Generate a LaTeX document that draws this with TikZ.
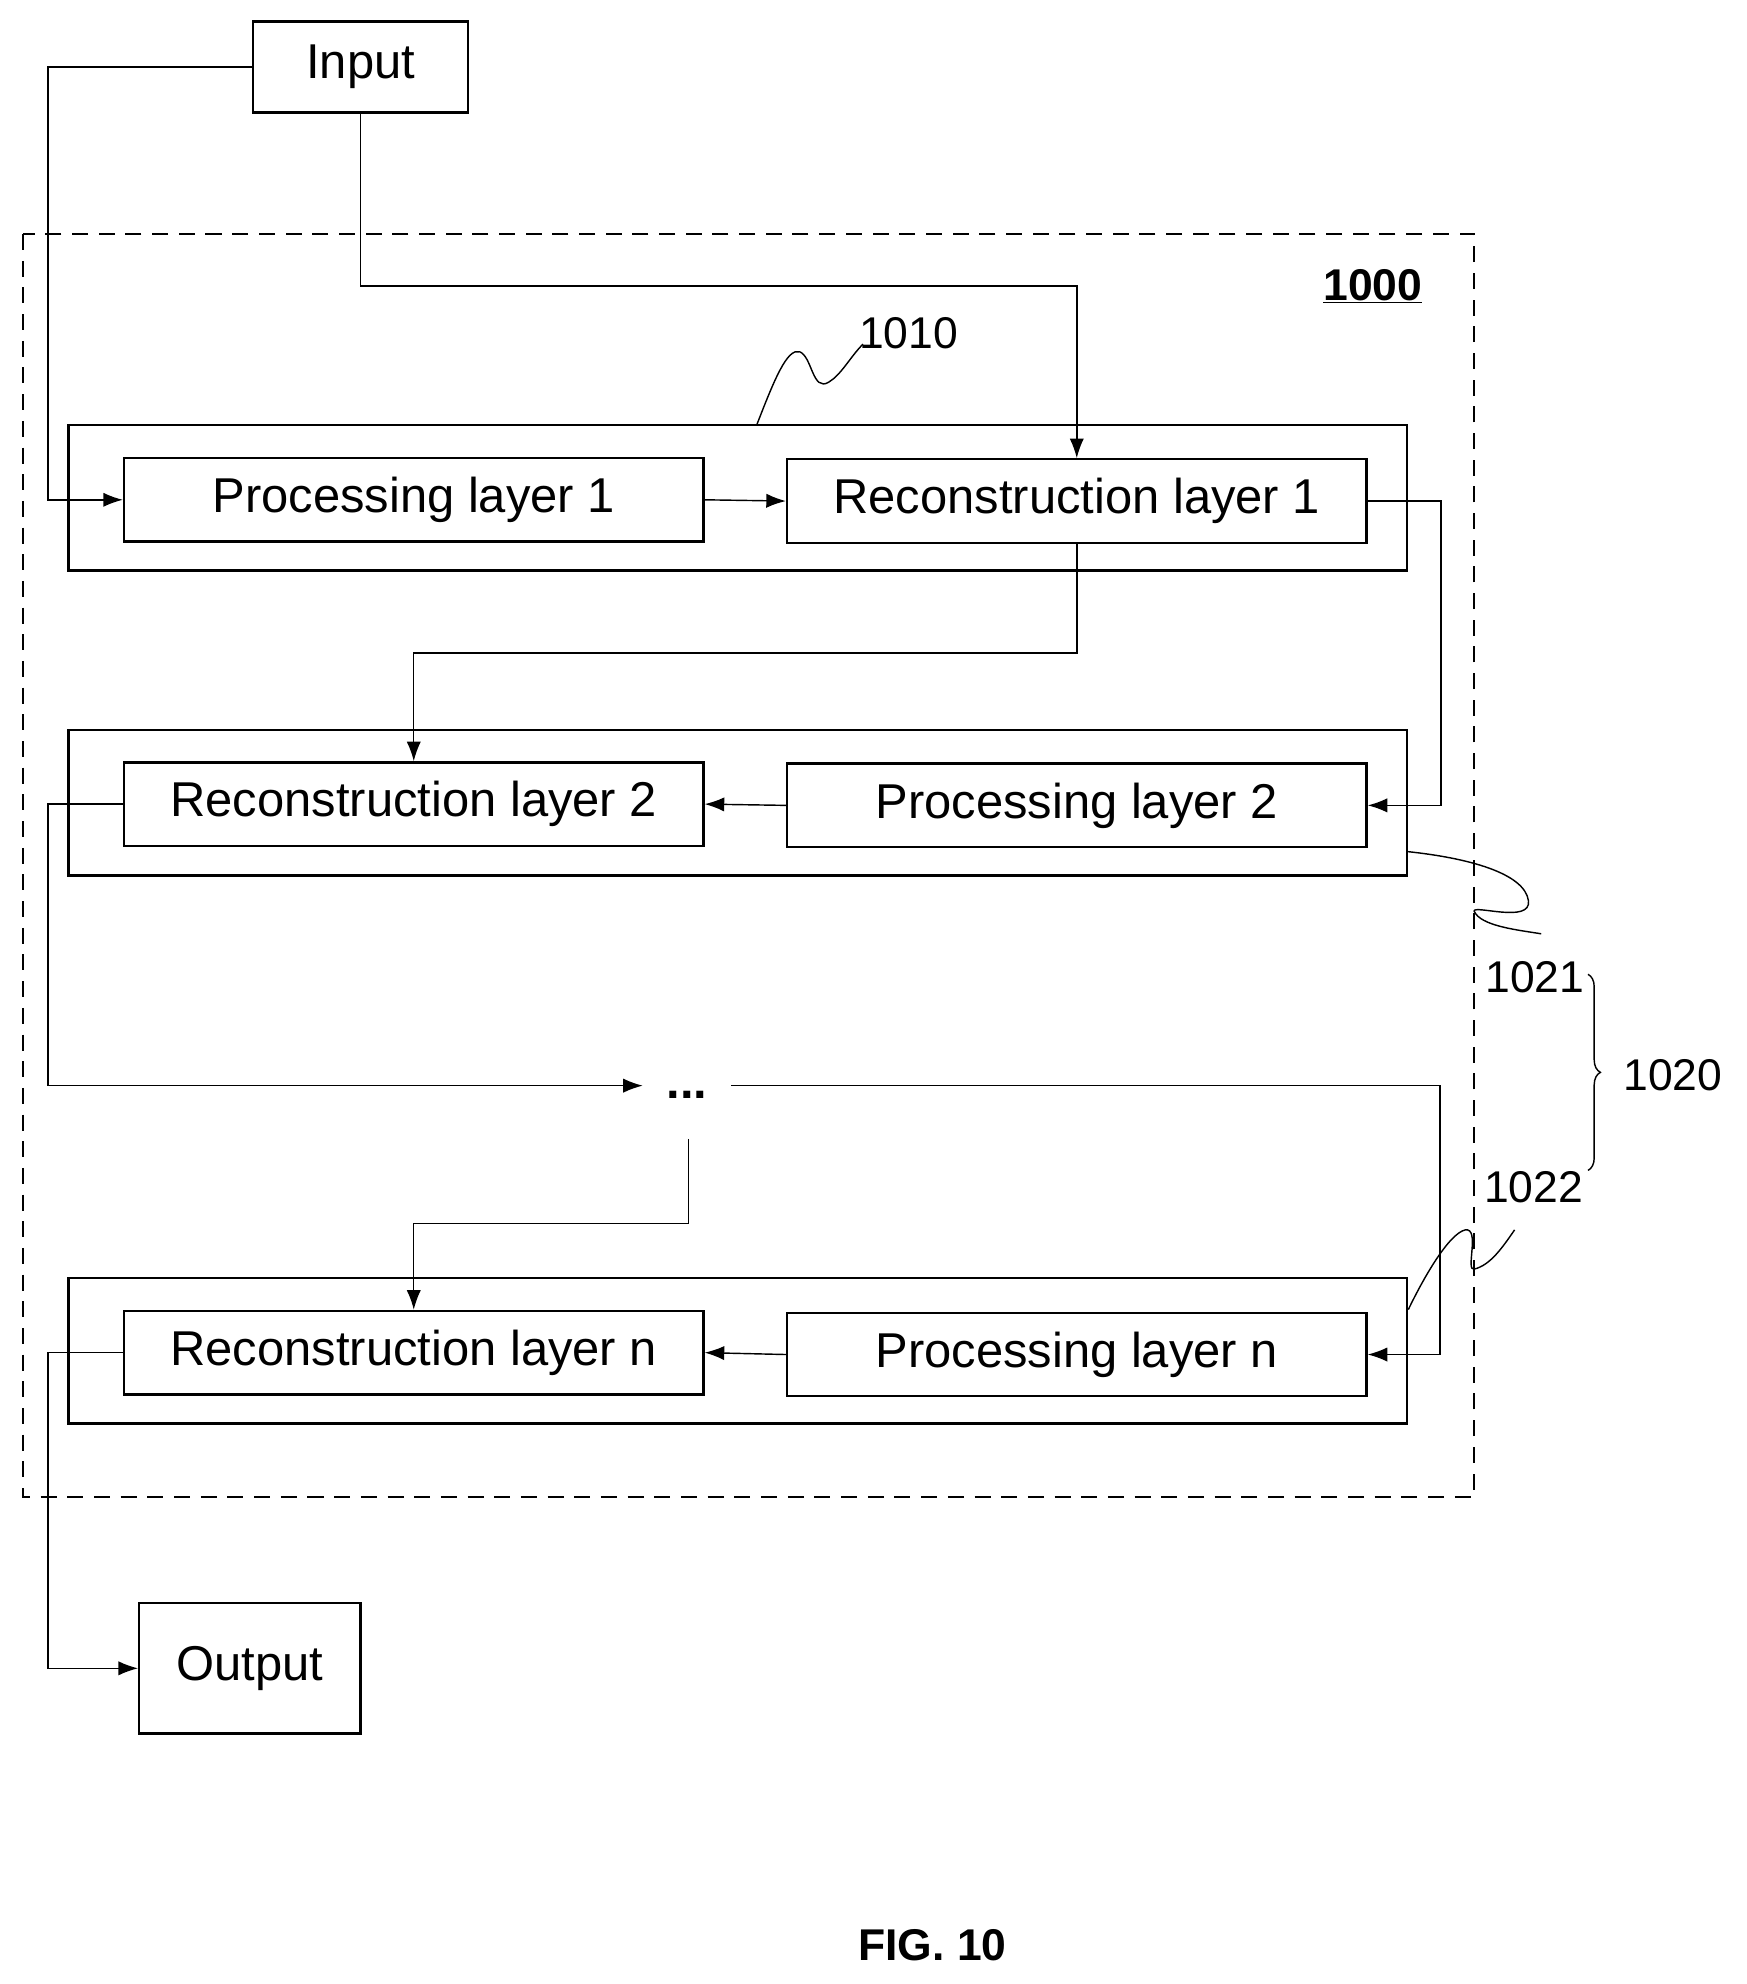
\documentclass[tikz,border=0pt]{standalone}
\usepackage{fontspec}
\setmainfont{Liberation Sans}
\usetikzlibrary{arrows.meta,decorations.pathreplacing}
\begin{document}
\begin{tikzpicture}[x=0.05cm,y=-0.05cm,
  box/.style={draw,line width=2.6pt,inner sep=0,font=\fontsize{55}{60}\selectfont},
  grp/.style={draw,line width=2.6pt,inner sep=0,minimum width=52.9cm,minimum height=5.75cm},
  lay/.style={box,minimum width=22.9cm,minimum height=3.3cm},
  con/.style={line width=1.6pt,-{Latex[length=22pt,width=16pt]}},
  ln/.style={line width=1.6pt},
  lbl/.style={font=\fontsize{50}{55}\selectfont,inner sep=0}]
\useasboundingbox (0,0) rectangle (1380,1568);
\draw[line width=2.2pt,dash pattern=on 18pt off 12pt] (18,185) rectangle (1165,1183);
\node[lbl,font=\fontsize{50}{55}\selectfont\bfseries] (t1000) at (1085,226) {\underline{1000}};
\node[box,minimum width=8.5cm,minimum height=3.6cm] (in) at (285,53) {Input};
\node[box,minimum width=8.75cm,minimum height=5.15cm] (out) at (197.5,1318.5) {Output};
\node[grp] (g1) at (583,393.5) {};
\node[grp] (g2) at (583,634.5) {};
\node[grp] (gn) at (583,1067.5) {};
\node[lay] (pl1) at (327,395) {Processing layer 1};
\node[lay] (rl1) at (851,396) {Reconstruction layer 1};
\node[lay] (rl2) at (327,635.5) {Reconstruction layer 2};
\node[lay] (pl2) at (851,636.5) {Processing layer 2};
\node[lay] (rln) at (327,1069) {Reconstruction layer n};
\node[lay] (pln) at (851,1070.5) {Processing layer n};
\node[font=\fontsize{55}{60}\selectfont\bfseries,inner sep=0] (dots) at (543,865) {...};
\coordinate (dl) at (508,858);
\coordinate (dr) at (578,858);
\coordinate (db) at (544,900);
\node[font=\fontsize{50}{55}\selectfont\bfseries,inner sep=0] (fig) at (737,1537) {FIG. 10};
% connectors
\draw[con] (in.west) -- ++(-161,0) |- (pl1.west);
\draw[con] (in.south) |- (851,226) -- (rl1.north);
\draw[con] (pl1.east) -- (rl1.west);
\draw[con] (rl1.east) -- ++(58,0) |- (pl2.east);
\draw[con] (rl1.south) |- (327,516) -- (rl2.north);
\draw[con] (pl2.west) -- (rl2.east);
\draw[con] (rl2.west) -- ++(-59,0) |- (dl);
\draw[con] (dr) -| (1138,1000) |- (pln.east);
\draw[con] (db) |- (327,967) -- (rln.north);
\draw[con] (pln.west) -- (rln.east);
\draw[con] (rln.west) -- ++(-59,0) |- (out.west);
% reference labels
\node[lbl] (l1010) at (718,263) {1010};
\node[lbl] (l1021) at (1213,772) {1021};
\node[lbl] (l1022) at (1212,938) {1022};
\node[lbl] (l1020) at (1322,850) {1020};
\draw[ln] (598,336) .. controls (612,300) and (622,275) .. (632,278) .. controls (642,282) and (642,310) .. (655,302) .. controls (665,296) and (672,282) .. (682,272);
\draw[ln] (1112,673) .. controls (1160,678) and (1205,690) .. (1208,712) .. controls (1210,730) and (1165,715) .. (1165,720) .. controls (1170,732) and (1200,735) .. (1218,738);
\draw[ln] (1113,1035) .. controls (1125,1010) and (1145,975) .. (1158,972) .. controls (1170,970) and (1158,1005) .. (1165,1003) .. controls (1178,1000) and (1188,985) .. (1197,972);
\draw[ln,decorate,decoration={brace,amplitude=14pt}] (1255,770) -- (1255,925);
\end{tikzpicture}
\end{document}
